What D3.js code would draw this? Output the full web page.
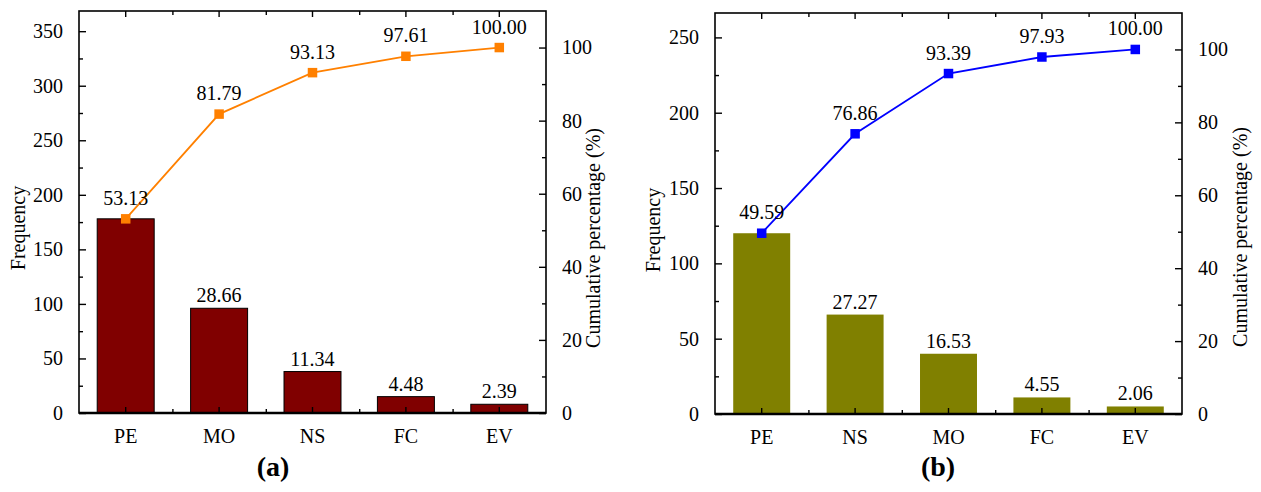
<!DOCTYPE html>
<html><head><meta charset="utf-8">
<script src="https://cdn.jsdelivr.net/npm/d3@7"></script>
<style>
body{margin:0;background:#fff;}
svg{display:block;}
text{font-family:"Liberation Serif","Times New Roman",serif;fill:#000;}
</style></head>
<body>
<svg id="chart" width="1261" height="492"></svg>
<script>
// Panel (a)
const catsA = ["PE","MO","NS","FC","EV"];
const freqA = [178, 96, 38, 15, 8];
const pctA = ["53.13","28.66","11.34","4.48","2.39"];
const cumA = [53.13, 81.79, 93.13, 97.61, 100.00];
// Panel (b)
const catsB = ["PE","NS","MO","FC","EV"];
const freqB = [120, 66, 40, 11, 5];
const pctB = ["49.59","27.27","16.53","4.55","2.06"];
const cumB = [49.59, 76.86, 93.39, 97.93, 100.00];
const leftTicksA = [0,50,100,150,200,250,300,350];
const leftTicksB = [0,50,100,150,200,250];
const rightTicks = [0,20,40,60,80,100];

const svg = d3.select("#chart");

function panel(opt){
  const g = svg.append("g");
  const {x0,x1,y0,y1} = opt;
  const total = d3.sum(opt.freq);
  const x = d3.scaleBand().domain(opt.cats).range([x0,x1]).paddingInner(0).paddingOuter(0);
  const yL = d3.scaleLinear().domain([0,total*1.1]).range([y1,y0]);
  const yR = d3.scaleLinear().domain([0,110]).range([y1,y0]);
  const bw = x.bandwidth()*0.61;

  // bars
  g.selectAll("rect.bar").data(opt.freq).enter().append("rect")
    .attr("x",(d,i)=>x(opt.cats[i])+x.bandwidth()/2-bw/2)
    .attr("y",d=>yL(d)).attr("width",bw).attr("height",d=>yL(0)-yL(d))
    .attr("fill",opt.barColor)
    .attr("stroke",opt.barStroke||"none").attr("stroke-width",1);

  // bar labels (skip first, shared with line label)
  g.selectAll("text.bl").data(opt.freq).enter().filter((d,i)=>i>0).append("text")
    .attr("x",(d,i)=>x(opt.cats[i+1])+x.bandwidth()/2)
    .attr("y",(d,i)=>yL(opt.freq[i+1])-6)
    .attr("text-anchor","middle").attr("font-size",20)
    .text((d,i)=>opt.pct[i+1]);

  // cumulative line
  const line = d3.line().x((d,i)=>x(opt.cats[i])+x.bandwidth()/2).y(d=>yR(d));
  g.append("path").datum(opt.cum).attr("d",line).attr("fill","none")
    .attr("stroke",opt.lineColor).attr("stroke-width",1.8);
  const ms = 9.5;
  g.selectAll("rect.mk").data(opt.cum).enter().append("rect")
    .attr("x",(d,i)=>x(opt.cats[i])+x.bandwidth()/2-ms/2)
    .attr("y",d=>yR(d)-ms/2).attr("width",ms).attr("height",ms)
    .attr("fill",opt.lineColor);
  g.selectAll("text.cl").data(opt.cum).enter().append("text")
    .attr("x",(d,i)=>x(opt.cats[i])+x.bandwidth()/2)
    .attr("y",d=>yR(d)-14)
    .attr("text-anchor","middle").attr("font-size",20)
    .text(d=>d.toFixed(2));

  // frame
  g.append("rect").attr("x",x0).attr("y",y0).attr("width",x1-x0).attr("height",y1-y0)
    .attr("fill","none").attr("stroke","#000").attr("stroke-width",1.6);
  g.append("line").attr("x1",x0).attr("x2",x1).attr("y1",y1).attr("y2",y1)
    .attr("stroke","#000").attr("stroke-width",2.4);

  // left axis
  const la = d3.axisLeft(yL).tickValues(opt.leftTicks).tickSize(-7).tickPadding(16);
  const gl = g.append("g").attr("transform",`translate(${x0},0)`).call(la);
  const lminor = d3.axisLeft(yL).tickValues(opt.leftTicks.map(v=>v+25).filter(v=>v<total*1.1)).tickSize(-4).tickFormat("");
  const glm = g.append("g").attr("transform",`translate(${x0},0)`).call(lminor);
  // right axis
  const ra = d3.axisRight(yR).tickValues(rightTicks).tickSize(-7).tickPadding(16);
  const gr = g.append("g").attr("transform",`translate(${x1},0)`).call(ra);
  const rminor = d3.axisRight(yR).tickValues([10,30,50,70,90]).tickSize(-4).tickFormat("");
  const grm = g.append("g").attr("transform",`translate(${x1},0)`).call(rminor);
  // bottom axis
  const ba = d3.axisBottom(x).tickSize(-6).tickPadding(16);
  const gb = g.append("g").attr("transform",`translate(0,${y1})`).call(ba);
  const bpos = d3.scaleLinear().domain([0,5]).range([x0,x1]);
  const gbm = g.append("g").attr("transform",`translate(0,${y1})`).call(
    d3.axisBottom(bpos).tickValues([1,2,3,4]).tickSize(-4).tickFormat(""));
  // top mirror ticks
  const gt = g.append("g").attr("transform",`translate(0,${y0})`).call(
    d3.axisTop(x).tickSize(-6).tickFormat(""));
  const gtm = g.append("g").attr("transform",`translate(0,${y0})`).call(
    d3.axisTop(bpos).tickValues([1,2,3,4]).tickSize(-4).tickFormat(""));

  [gl,glm,gr,grm,gb,gbm,gt,gtm].forEach(a=>{
    a.select(".domain").remove();
    a.attr("font-family",null);
    a.selectAll(".tick line").attr("stroke","#000").attr("stroke-width",1.4);
    a.selectAll("text").attr("font-size",20).attr("fill","#000");
  });
  gb.selectAll(".tick text").attr("dy","0.71em");

  // titles
  g.append("text").attr("transform",`translate(${opt.ltX},${opt.ltY}) rotate(-90)`)
    .attr("text-anchor","middle").attr("dy","0.35em").attr("font-size",20).text("Frequency");
  g.append("text").attr("transform",`translate(${opt.rtX},${opt.rtY}) rotate(-90)`)
    .attr("text-anchor","middle").attr("dy","0.35em").attr("font-size",20).text("Cumulative percentage (%)");
  g.append("text").attr("x",opt.tagX).attr("y",476).attr("text-anchor","middle")
    .attr("font-size",28).attr("font-weight","bold").text(opt.tag);
}

panel({x0:79,x1:546,y0:11,y1:413,cats:catsA,freq:freqA,pct:pctA,cum:cumA,
  barColor:"#800000",barStroke:"#000",lineColor:"#FF8000",leftTicks:leftTicksA,
  ltX:18,ltY:228,rtX:593,rtY:238,tagX:273,tag:"(a)"});
panel({x0:715,x1:1182,y0:13,y1:414,cats:catsB,freq:freqB,pct:pctB,cum:cumB,
  barColor:"#808000",lineColor:"#0000FF",leftTicks:leftTicksB,
  ltX:653,ltY:230,rtX:1240,rtY:237,tagX:938,tag:"(b)"});
</script>
</body></html>
